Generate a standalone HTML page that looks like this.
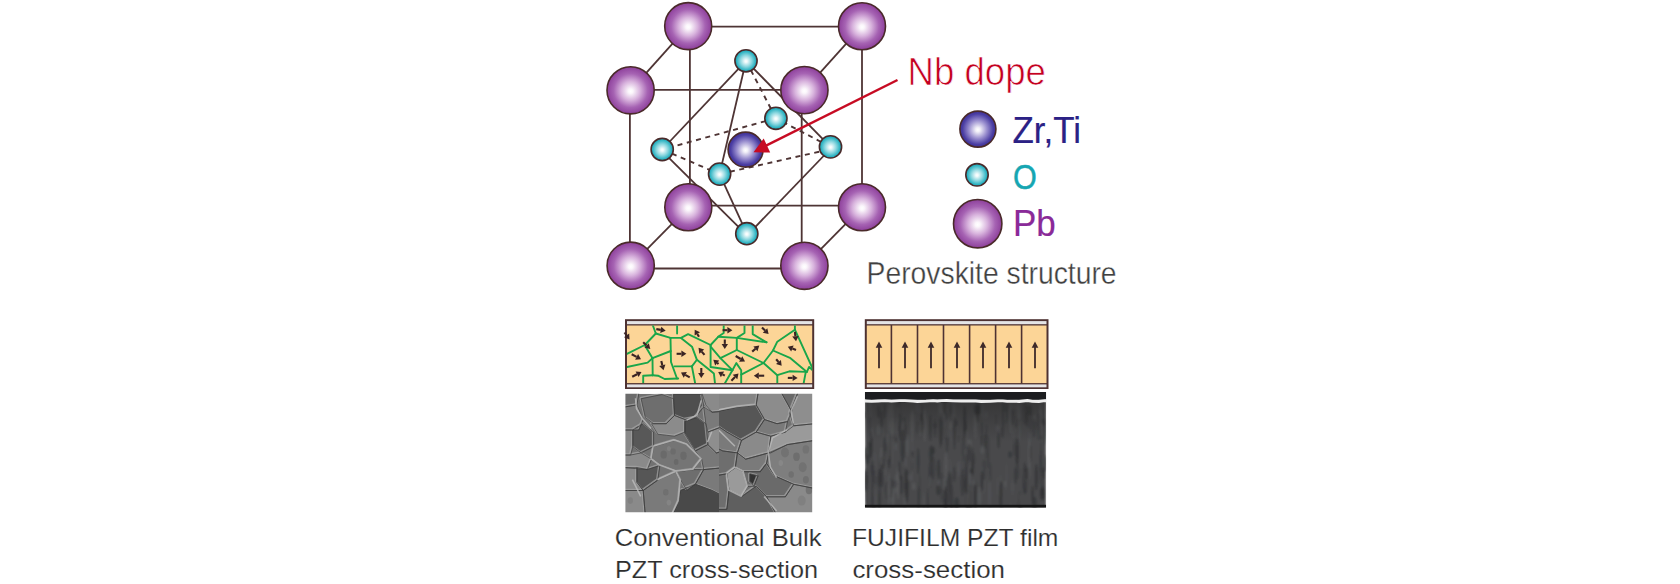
<!DOCTYPE html>
<html><head><meta charset="utf-8"><style>
html,body{margin:0;padding:0;background:#fff;width:1680px;height:584px;overflow:hidden}
svg{position:absolute;left:0;top:0;display:block}
</style></head><body>
<svg width="1680" height="584" viewBox="0 0 1680 584">
<defs>
<radialGradient id="gPb" cx="50%" cy="50%" r="50%" fx="50%" fy="52%">
<stop offset="0" stop-color="#ffffff"/><stop offset="0.1" stop-color="#fbf6fb"/><stop offset="0.4" stop-color="#d8b3dd"/><stop offset="0.72" stop-color="#a663b3"/><stop offset="1" stop-color="#8d3f9b"/></radialGradient>
<radialGradient id="gZr" cx="50%" cy="50%" r="50%" fx="50%" fy="52%">
<stop offset="0" stop-color="#ffffff"/><stop offset="0.12" stop-color="#f2f0f8"/><stop offset="0.5" stop-color="#9a8fcf"/><stop offset="0.85" stop-color="#4b3ea3"/><stop offset="1" stop-color="#3e3199"/></radialGradient>
<radialGradient id="gO" cx="50%" cy="50%" r="50%" fx="50%" fy="52%">
<stop offset="0" stop-color="#ffffff"/><stop offset="0.12" stop-color="#f0fafb"/><stop offset="0.5" stop-color="#8fd8e0"/><stop offset="0.85" stop-color="#2db3c2"/><stop offset="1" stop-color="#1ba8b9"/></radialGradient>
<filter id="blur1" x="-5%" y="-5%" width="110%" height="110%"><feGaussianBlur stdDeviation="0.6"/></filter>
<filter id="blur15" x="-5%" y="-5%" width="110%" height="110%"><feGaussianBlur stdDeviation="0.9"/></filter>
<linearGradient id="sem2top" x1="0" y1="0" x2="0" y2="1"><stop offset="0" stop-color="#222" stop-opacity="0.45"/><stop offset="1" stop-color="#222" stop-opacity="0"/></linearGradient>
<filter id="blur2" x="-5%" y="-5%" width="110%" height="110%"><feGaussianBlur stdDeviation="1.2"/></filter>
<clipPath id="sem1"><rect x="625.4" y="393.8" width="186.8" height="118.5"/></clipPath>
<clipPath id="sem2"><rect x="864.9" y="391.9" width="181.2" height="115.8"/></clipPath>
<clipPath id="semL"><rect x="600" y="380" width="119" height="140"/></clipPath>
<clipPath id="semR"><rect x="719" y="380" width="100" height="140"/></clipPath>
<clipPath id="pan1"><rect x="627" y="325.5" width="185.2" height="57.6"/></clipPath>
</defs>
<line x1="688.2" y1="26.7" x2="862" y2="26.7" stroke="#4e3434" stroke-width="1.8" fill="none" />
<line x1="689.9" y1="26.1" x2="689.9" y2="207.3" stroke="#4e3434" stroke-width="1.8" fill="none" />
<line x1="862" y1="26.2" x2="862" y2="207.3" stroke="#4e3434" stroke-width="1.8" fill="none" />
<line x1="688.3" y1="205.6" x2="862" y2="205.6" stroke="#4e3434" stroke-width="1.8" fill="none" />
<line x1="688.2" y1="26.1" x2="630.6" y2="90.3" stroke="#4e3434" stroke-width="1.8" fill="none" />
<line x1="862" y1="26.2" x2="804.4" y2="90.1" stroke="#4e3434" stroke-width="1.8" fill="none" />
<line x1="688.3" y1="207.3" x2="630.7" y2="265.7" stroke="#4e3434" stroke-width="1.8" fill="none" />
<line x1="862" y1="207.3" x2="804.4" y2="265.8" stroke="#4e3434" stroke-width="1.8" fill="none" />
<line x1="630.6" y1="89.8" x2="804.4" y2="89.8" stroke="#4e3434" stroke-width="1.8" fill="none" />
<line x1="629.9" y1="90" x2="629.9" y2="265.6" stroke="#4e3434" stroke-width="1.8" fill="none" />
<line x1="801.7" y1="90" x2="801.7" y2="265.7" stroke="#4e3434" stroke-width="1.8" fill="none" />
<line x1="630.7" y1="268.5" x2="804.4" y2="268.5" stroke="#4e3434" stroke-width="1.8" fill="none" />
<line x1="746" y1="60.8" x2="662.2" y2="149.5" stroke="#4e3434" stroke-width="1.8" fill="none" />
<line x1="746" y1="60.8" x2="830.5" y2="146.9" stroke="#4e3434" stroke-width="1.8" fill="none" />
<line x1="746" y1="60.8" x2="719.6" y2="174.1" stroke="#4e3434" stroke-width="1.8" fill="none" />
<line x1="746" y1="60.8" x2="775.9" y2="118.3" stroke="#4e3434" fill="none" stroke-dasharray="5 4.6" stroke-dashoffset="-1" stroke-width="1.9"/>
<line x1="746.8" y1="235.2" x2="662.1" y2="151.2" stroke="#4e3434" stroke-width="1.8" fill="none" />
<line x1="746.8" y1="235.8" x2="830.3" y2="149.0" stroke="#4e3434" stroke-width="1.8" fill="none" />
<line x1="746.8" y1="233.7" x2="719.6" y2="174.1" stroke="#4e3434" stroke-width="1.8" fill="none" />
<line x1="662.2" y1="149.5" x2="719.6" y2="174.1" stroke="#4e3434" fill="none" stroke-dasharray="5 4.6" stroke-dashoffset="-1" stroke-width="1.9"/>
<line x1="719.6" y1="174.1" x2="830.3" y2="149.2" stroke="#4e3434" fill="none" stroke-dasharray="5 4.6" stroke-dashoffset="-1" stroke-width="1.9"/>
<line x1="830.5" y1="146.9" x2="775.9" y2="118.3" stroke="#4e3434" fill="none" stroke-dasharray="5 4.6" stroke-dashoffset="-1" stroke-width="1.9"/>
<line x1="775.9" y1="118.3" x2="662.2" y2="149.5" stroke="#4e3434" fill="none" stroke-dasharray="5 4.6" stroke-dashoffset="-1" stroke-width="1.9"/>
<circle cx="688.2" cy="26.1" r="23.5" fill="url(#gPb)" stroke="#4a2a2a" stroke-width="1.6"/>
<circle cx="862" cy="26.2" r="23.5" fill="url(#gPb)" stroke="#4a2a2a" stroke-width="1.6"/>
<circle cx="688.3" cy="207.3" r="23.5" fill="url(#gPb)" stroke="#4a2a2a" stroke-width="1.6"/>
<circle cx="862" cy="207.3" r="23.5" fill="url(#gPb)" stroke="#4a2a2a" stroke-width="1.6"/>
<circle cx="775.9" cy="118.3" r="11.1" fill="url(#gO)" stroke="#4a2a2a" stroke-width="1.6"/>
<circle cx="745.6" cy="149.6" r="17.5" fill="url(#gZr)" stroke="#4a2a2a" stroke-width="1.6"/>
<circle cx="746" cy="60.8" r="11.1" fill="url(#gO)" stroke="#4a2a2a" stroke-width="1.6"/>
<circle cx="662.2" cy="149.5" r="11.1" fill="url(#gO)" stroke="#4a2a2a" stroke-width="1.6"/>
<circle cx="830.5" cy="146.9" r="11.1" fill="url(#gO)" stroke="#4a2a2a" stroke-width="1.6"/>
<circle cx="719.6" cy="174.1" r="11.1" fill="url(#gO)" stroke="#4a2a2a" stroke-width="1.6"/>
<circle cx="746.8" cy="233.7" r="11.1" fill="url(#gO)" stroke="#4a2a2a" stroke-width="1.6"/>
<circle cx="630.6" cy="90.3" r="23.6" fill="url(#gPb)" stroke="#4a2a2a" stroke-width="1.6"/>
<circle cx="804.4" cy="90.1" r="23.6" fill="url(#gPb)" stroke="#4a2a2a" stroke-width="1.6"/>
<circle cx="630.7" cy="265.7" r="23.6" fill="url(#gPb)" stroke="#4a2a2a" stroke-width="1.6"/>
<circle cx="804.4" cy="265.8" r="23.6" fill="url(#gPb)" stroke="#4a2a2a" stroke-width="1.6"/>
<line x1="897.5" y1="80.0" x2="762" y2="147.6" stroke="#c70b23" stroke-width="2.5"/>
<polygon points="753.5,152.2 763.7,138.4 770.2,152.6" fill="#c70b23"/>
<circle cx="977.9" cy="129.1" r="18.0" fill="url(#gZr)" stroke="#4a2a2a" stroke-width="1.6"/>
<circle cx="977.0" cy="174.8" r="11.2" fill="url(#gO)" stroke="#4a2a2a" stroke-width="1.6"/>
<circle cx="977.7" cy="223.7" r="24.2" fill="url(#gPb)" stroke="#4a2a2a" stroke-width="1.6"/>
<text x="907.60" y="84.5" font-family="Liberation Sans, sans-serif" font-size="38.6" fill="#c4001f" stroke="#fff" stroke-width="0.7" textLength="138.20" lengthAdjust="spacingAndGlyphs">Nb dope</text>
<text x="1012.40" y="142.9" font-family="Liberation Sans, sans-serif" font-size="37.0" fill="#2b2185" stroke="#2b2185" stroke-width="0.2" textLength="68.60" lengthAdjust="spacingAndGlyphs">Zr,Ti</text>
<text x="1013.00" y="188.6" font-family="Liberation Sans, sans-serif" font-size="35.2" fill="#16a6b2" stroke="#16a6b2" stroke-width="0.45" textLength="23.80" lengthAdjust="spacingAndGlyphs">O</text>
<text x="1013.00" y="235.6" font-family="Liberation Sans, sans-serif" font-size="37.0" fill="#8a2a98" stroke="#8a2a98" stroke-width="0.2" textLength="42.80" lengthAdjust="spacingAndGlyphs">Pb</text>
<text x="866.60" y="283.6" font-family="Liberation Sans, sans-serif" font-size="30.5" fill="#404040" stroke="#fff" stroke-width="0.35" textLength="250.00" lengthAdjust="spacingAndGlyphs">Perovskite structure</text>
<text x="614.80" y="545.7" font-family="Liberation Sans, sans-serif" font-size="23.8" fill="#2e2e2e" stroke="#fff" stroke-width="0.15" textLength="206.80" lengthAdjust="spacingAndGlyphs">Conventional Bulk</text>
<text x="615.00" y="577.5" font-family="Liberation Sans, sans-serif" font-size="23.8" fill="#2e2e2e" stroke="#fff" stroke-width="0.15" textLength="203.00" lengthAdjust="spacingAndGlyphs">PZT cross-section</text>
<text x="852.00" y="545.7" font-family="Liberation Sans, sans-serif" font-size="23.8" fill="#2e2e2e" stroke="#fff" stroke-width="0.15" textLength="206.40" lengthAdjust="spacingAndGlyphs">FUJIFILM PZT film</text>
<text x="852.40" y="577.5" font-family="Liberation Sans, sans-serif" font-size="23.8" fill="#2e2e2e" stroke="#fff" stroke-width="0.15" textLength="152.60" lengthAdjust="spacingAndGlyphs">cross-section</text>
<rect x="625" y="319.2" width="189.20000000000005" height="69.8" fill="#4e3232"/><rect x="627" y="321.1" width="185.20000000000005" height="3.1" fill="#e4e4e6"/><rect x="627" y="325.5" width="185.20000000000005" height="57.6" fill="#fcd597"/><rect x="627" y="384.4" width="185.20000000000005" height="2.9" fill="#e4e4e6"/>
<rect x="864.8" y="319.2" width="183.70000000000005" height="69.8" fill="#4e3232"/><rect x="866.8" y="321.1" width="179.70000000000005" height="3.1" fill="#e4e4e6"/><rect x="866.8" y="325.5" width="179.70000000000005" height="57.6" fill="#fcd597"/><rect x="866.8" y="384.4" width="179.70000000000005" height="2.9" fill="#e4e4e6"/>
<line x1="891.4" y1="325" x2="891.4" y2="383.5" stroke="#4e3232" stroke-width="1.6"/>
<line x1="917.5" y1="325" x2="917.5" y2="383.5" stroke="#4e3232" stroke-width="1.6"/>
<line x1="943.5" y1="325" x2="943.5" y2="383.5" stroke="#4e3232" stroke-width="1.6"/>
<line x1="969.6" y1="325" x2="969.6" y2="383.5" stroke="#4e3232" stroke-width="1.6"/>
<line x1="995.6" y1="325" x2="995.6" y2="383.5" stroke="#4e3232" stroke-width="1.6"/>
<line x1="1021.6" y1="325" x2="1021.6" y2="383.5" stroke="#4e3232" stroke-width="1.6"/>
<line x1="879.0" y1="346" x2="879.0" y2="368.2" stroke="#3e2a2a" stroke-width="1.8"/>
<polygon points="875.7,347.8 879.0,341.4 882.3,347.8" fill="#3e2a2a"/>
<line x1="905.0" y1="346" x2="905.0" y2="368.2" stroke="#3e2a2a" stroke-width="1.8"/>
<polygon points="901.7,347.8 905.0,341.4 908.3,347.8" fill="#3e2a2a"/>
<line x1="931.0" y1="346" x2="931.0" y2="368.2" stroke="#3e2a2a" stroke-width="1.8"/>
<polygon points="927.7,347.8 931.0,341.4 934.3,347.8" fill="#3e2a2a"/>
<line x1="957.0" y1="346" x2="957.0" y2="368.2" stroke="#3e2a2a" stroke-width="1.8"/>
<polygon points="953.7,347.8 957.0,341.4 960.3,347.8" fill="#3e2a2a"/>
<line x1="983.0" y1="346" x2="983.0" y2="368.2" stroke="#3e2a2a" stroke-width="1.8"/>
<polygon points="979.7,347.8 983.0,341.4 986.3,347.8" fill="#3e2a2a"/>
<line x1="1009.0" y1="346" x2="1009.0" y2="368.2" stroke="#3e2a2a" stroke-width="1.8"/>
<polygon points="1005.7,347.8 1009.0,341.4 1012.3,347.8" fill="#3e2a2a"/>
<line x1="1035.0" y1="346" x2="1035.0" y2="368.2" stroke="#3e2a2a" stroke-width="1.8"/>
<polygon points="1031.7,347.8 1035.0,341.4 1038.3,347.8" fill="#3e2a2a"/>
<g clip-path="url(#pan1)" fill="none" stroke="#19a64a" stroke-width="1.9" stroke-linejoin="round" stroke-linecap="round"><polyline points="652.7,325.0 655.8,333.5"/><polyline points="655.8,333.5 670.5,337.9"/><polyline points="655.8,333.5 644.8,345.0 627.0,353.8"/><polyline points="644.8,345.3 652.5,358.2"/><polyline points="652.5,358.2 670.8,351.0"/><polyline points="652.5,358.2 647.6,362.6 627.0,367.0"/><polyline points="652.5,358.2 652.7,375.2"/><polyline points="652.7,375.2 643.2,375.7 643.2,383.5"/><polyline points="652.7,375.2 658.0,375.7 664.6,379.0 678.2,378.5"/><polyline points="677.1,325.0 677.1,333.5"/><polyline points="670.5,337.9 681.0,337.9 688.1,334.1 710.6,345.0"/><polyline points="710.6,345.0 718.2,336.8 723.7,333.0 723.7,325.0"/><polyline points="681.0,337.9 692.0,346.7 696.9,359.8 691.9,366.4"/><polyline points="691.9,366.4 674.4,366.4"/><polyline points="691.9,366.4 695.2,383.5"/><polyline points="670.5,337.9 671.0,362.0 677.0,378.5"/><polyline points="710.6,345.0 710.6,367.0 732.4,370.2"/><polyline points="710.6,346.7 720.4,358.2 732.4,370.2"/><polyline points="696.9,359.8 713.9,373.5 715.0,383.5"/><polyline points="718.2,336.8 736.8,337.9"/><polyline points="736.8,337.9 744.5,333.0 744.5,325.0"/><polyline points="736.8,337.9 766.5,342.3"/><polyline points="752.7,325.0 752.7,334.1 766.5,342.3"/><polyline points="736.8,337.9 736.8,350.0"/><polyline points="736.8,350.0 720.4,358.2"/><polyline points="736.8,350.0 763.5,363.0"/><polyline points="732.4,370.2 724.8,383.5"/><polyline points="732.4,370.2 736.3,363.1 741.2,370.2 741.2,383.5"/><polyline points="741.2,374.6 763.5,363.0"/><polyline points="794.9,325.0 794.9,329.7"/><polyline points="794.9,329.7 777.3,341.7 773.0,350.5 763.5,363.0"/><polyline points="794.9,329.7 812.4,368.0"/><polyline points="773.0,350.5 790.5,358.2 806.9,371.9"/><polyline points="763.5,363.0 777.3,375.2 777.3,383.5"/><polyline points="777.3,375.2 789.4,371.3 805.8,371.9"/><polyline points="805.8,371.9 803.6,383.5"/><polyline points="806.9,371.9 809.1,366.9 812.4,370.0"/></g>
<g stroke="#3a2424" stroke-width="2.1" fill="#3a2424"><line x1="656.3" y1="329.1" x2="660.8" y2="329.9"/><polygon points="665.7,330.8 660.2,333.1 661.3,326.8" stroke="none" fill="#3a2424"/><line x1="643.2" y1="342.3" x2="646.6" y2="345.5"/><polygon points="650.3,348.9 644.5,347.8 648.8,343.2" stroke="none" fill="#3a2424"/><line x1="631.7" y1="354.3" x2="636.6" y2="356.9"/><polygon points="641.0,359.3 635.1,359.8 638.1,354.1" stroke="none" fill="#3a2424"/><line x1="661.3" y1="361.0" x2="662.3" y2="365.3"/><polygon points="663.5,370.2 659.2,366.1 665.4,364.6" stroke="none" fill="#3a2424"/><line x1="632.2" y1="376.8" x2="637.1" y2="374.2"/><polygon points="641.5,371.9 638.6,377.1 635.6,371.4" stroke="none" fill="#3a2424"/><line x1="624.5" y1="332.5" x2="626.6" y2="335.4"/><polygon points="629.5,339.5 624.0,337.3 629.2,333.6" stroke="none" fill="#3a2424"/><line x1="699.0" y1="336.8" x2="697.3" y2="334.0"/><polygon points="694.7,329.7 700.0,332.3 694.6,335.6" stroke="none" fill="#3a2424"/><line x1="676.6" y1="353.8" x2="681.4" y2="353.8"/><polygon points="686.4,353.8 681.4,357.0 681.4,350.6" stroke="none" fill="#3a2424"/><line x1="704.5" y1="354.9" x2="701.7" y2="351.6"/><polygon points="698.5,347.8 704.2,349.6 699.3,353.7" stroke="none" fill="#3a2424"/><line x1="689.7" y1="377.4" x2="685.3" y2="374.9"/><polygon points="681.0,372.4 686.9,372.1 683.7,377.7" stroke="none" fill="#3a2424"/><line x1="701.3" y1="368.0" x2="701.3" y2="373.0"/><polygon points="701.3,378.0 698.1,373.0 704.5,373.0" stroke="none" fill="#3a2424"/><line x1="718.5" y1="364.0" x2="717.2" y2="362.9"/><polygon points="713.3,359.8 719.2,360.5 715.2,365.4" stroke="none" fill="#3a2424"/><line x1="722.6" y1="330.2" x2="727.4" y2="330.2"/><polygon points="732.4,330.2 727.4,333.4 727.4,327.0" stroke="none" fill="#3a2424"/><line x1="724.8" y1="339.5" x2="724.8" y2="343.9"/><polygon points="724.8,348.9 721.6,343.9 728.0,343.9" stroke="none" fill="#3a2424"/><line x1="752.2" y1="351.6" x2="755.5" y2="348.8"/><polygon points="759.3,345.6 757.5,351.3 753.4,346.4" stroke="none" fill="#3a2424"/><line x1="735.7" y1="356.0" x2="740.7" y2="359.0"/><polygon points="745.0,361.5 739.1,361.7 742.3,356.2" stroke="none" fill="#3a2424"/><line x1="731.4" y1="380.7" x2="735.0" y2="377.1"/><polygon points="738.5,373.5 737.3,379.3 732.7,374.8" stroke="none" fill="#3a2424"/><line x1="764.2" y1="375.7" x2="758.8" y2="375.7"/><polygon points="753.8,375.7 758.8,372.5 758.8,378.9" stroke="none" fill="#3a2424"/><line x1="762.0" y1="327.5" x2="765.1" y2="330.6"/><polygon points="768.6,334.1 762.8,332.8 767.3,328.3" stroke="none" fill="#3a2424"/><line x1="724.8" y1="375.7" x2="722.5" y2="374.4"/><polygon points="718.2,371.9 724.1,371.6 720.9,377.2" stroke="none" fill="#3a2424"/><line x1="794.9" y1="331.9" x2="795.4" y2="336.2"/><polygon points="796.0,341.2 792.2,336.6 798.6,335.9" stroke="none" fill="#3a2424"/><line x1="796.0" y1="350.0" x2="792.4" y2="348.6"/><polygon points="787.8,346.7 793.6,345.6 791.2,351.5" stroke="none" fill="#3a2424"/><line x1="776.2" y1="359.3" x2="778.5" y2="362.0"/><polygon points="781.7,365.8 776.0,364.1 780.9,359.9" stroke="none" fill="#3a2424"/><line x1="787.8" y1="377.9" x2="792.6" y2="377.9"/><polygon points="797.6,377.9 792.6,381.1 792.6,374.7" stroke="none" fill="#3a2424"/></g>
<g clip-path="url(#sem1)"><g filter="url(#blur1)"><rect x="625.4" y="393.8" width="186.8" height="118.5" fill="#727272"/><g clip-path="url(#semL)"><polygon points="624.0,392.0 638.6,392.0 636.5,404.5 624.0,406.6" fill="#6c6c6c" stroke="#6c6c6c" stroke-width="0.8"/><polygon points="640.7,398.3 661.6,394.1 673.1,398.3 674.1,415.0 665.8,423.3 653.2,423.3 644.9,417.1" fill="#6e6e6e" stroke="#6e6e6e" stroke-width="0.8"/><polygon points="673.1,394.1 701.2,394.1 703.3,406.6 695.0,417.1 684.5,419.1 674.1,415.0" fill="#4f4f4f" stroke="#4f4f4f" stroke-width="0.8"/><polygon points="701.2,392.0 724.0,392.0 724.0,410.8 711.7,411.8 705.4,404.5" fill="#8a8a8a" stroke="#8a8a8a" stroke-width="0.8"/><polygon points="624.0,406.6 636.5,404.5 642.8,419.1 638.6,429.6 624.0,429.6" fill="#7a7a7a" stroke="#7a7a7a" stroke-width="0.8"/><polygon points="651.1,423.3 665.8,423.3 674.1,415.0 684.5,419.1 684.5,431.7 674.1,435.8 657.4,433.8" fill="#8b8b8b" stroke="#8b8b8b" stroke-width="0.8"/><polygon points="632.4,429.6 642.8,423.3 653.2,431.7 653.2,446.3 640.7,452.5 632.4,446.3" fill="#595959" stroke="#595959" stroke-width="0.8"/><polygon points="684.5,421.2 697.1,417.1 705.4,423.3 707.5,444.2 695.0,450.5 684.5,433.8" fill="#4d4d4d" stroke="#4d4d4d" stroke-width="0.8"/><polygon points="703.3,406.6 711.7,411.8 724.0,410.8 724.0,425.4 707.5,431.7 705.4,423.3" fill="#7a7a7a" stroke="#7a7a7a" stroke-width="0.8"/><polygon points="707.5,431.7 724.0,425.4 724.0,450.5 715.9,452.5 707.5,444.2" fill="#8e8e8e" stroke="#8e8e8e" stroke-width="0.8"/><polygon points="624.0,429.6 632.4,429.6 632.4,446.3 630.3,454.6 624.0,454.6" fill="#8a8a8a" stroke="#8a8a8a" stroke-width="0.8"/><polygon points="653.2,446.3 674.1,440.0 686.6,444.2 701.2,458.8 692.9,469.2 676.2,471.3 659.5,465.1 651.1,458.8" fill="#757575" stroke="#757575" stroke-width="0.8"/><polygon points="624.0,454.6 630.3,454.6 640.7,452.5 651.1,458.8 647.0,469.2 624.0,467.2" fill="#8a8a8a" stroke="#8a8a8a" stroke-width="0.8"/><polygon points="695.0,450.5 707.5,444.2 715.9,452.5 724.0,450.5 724.0,467.2 703.3,469.2 701.2,458.8" fill="#787878" stroke="#787878" stroke-width="0.8"/><polygon points="636.5,467.2 647.0,469.2 659.5,465.1 657.4,479.7 642.8,490.1 636.5,481.8" fill="#565656" stroke="#565656" stroke-width="0.8"/><polygon points="624.0,467.2 636.5,467.2 636.5,481.8 642.8,490.1 624.0,490.1" fill="#8a8a8a" stroke="#8a8a8a" stroke-width="0.8"/><polygon points="624.0,490.1 642.8,490.1 644.9,515.2 624.0,515.2" fill="#8a8a8a" stroke="#8a8a8a" stroke-width="0.8"/><polygon points="657.4,479.7 676.2,471.3 680.4,479.7 678.3,500.6 672.0,515.2 644.9,515.2 642.8,490.1" fill="#7a7a7a" stroke="#7a7a7a" stroke-width="0.8"/><polygon points="676.2,471.3 692.9,469.2 703.3,469.2 695.0,483.9 686.6,490.1 680.4,479.7" fill="#6e6e6e" stroke="#6e6e6e" stroke-width="0.8"/><polygon points="703.3,469.2 724.0,467.2 724.0,496.4 711.7,490.1 695.0,483.9" fill="#7a7a7a" stroke="#7a7a7a" stroke-width="0.8"/><polygon points="680.4,490.1 695.0,483.9 711.7,490.1 724.0,496.4 724.0,515.2 672.0,515.2 678.3,500.6" fill="#4a4a4a" stroke="#4a4a4a" stroke-width="0.8"/><ellipse cx="663.7" cy="454.6" rx="3.3" ry="4.2" fill="#555555" opacity="0.3"/><ellipse cx="673.1" cy="451.5" rx="2.7" ry="3.3" fill="#5a5a5a" opacity="0.3"/><ellipse cx="683.5" cy="455.7" rx="3.3" ry="4.2" fill="#555555" opacity="0.3"/><ellipse cx="676.2" cy="461.9" rx="2.3" ry="2.9" fill="#505050" opacity="0.3"/><ellipse cx="668.9" cy="448.4" rx="2.0" ry="2.5" fill="#9a9a9a" opacity="0.3"/><ellipse cx="665.8" cy="492.2" rx="2.7" ry="3.3" fill="#555555" opacity="0.3"/><ellipse cx="668.9" cy="502.6" rx="2.3" ry="2.9" fill="#9a9a9a" opacity="0.3"/><ellipse cx="630.3" cy="500.6" rx="2.7" ry="3.3" fill="#6a6a6a" opacity="0.3"/><path d="M638.6,392.0L636.5,404.5M636.5,404.5L624.0,406.6M640.7,398.3L661.6,394.1M661.6,394.1L673.1,398.3M673.1,398.3L674.1,415.0M674.1,415.0L665.8,423.3M665.8,423.3L653.2,423.3M653.2,423.3L644.9,417.1M644.9,417.1L640.7,398.3M673.1,394.1L701.2,394.1M701.2,394.1L703.3,406.6M703.3,406.6L695.0,417.1M695.0,417.1L684.5,419.1M684.5,419.1L674.1,415.0M674.1,415.0L673.1,394.1M724.0,410.8L711.7,411.8M711.7,411.8L705.4,404.5M705.4,404.5L701.2,392.0M624.0,406.6L636.5,404.5M636.5,404.5L642.8,419.1M642.8,419.1L638.6,429.6M638.6,429.6L624.0,429.6M651.1,423.3L665.8,423.3M665.8,423.3L674.1,415.0M674.1,415.0L684.5,419.1M684.5,419.1L684.5,431.7M684.5,431.7L674.1,435.8M674.1,435.8L657.4,433.8M657.4,433.8L651.1,423.3M632.4,429.6L642.8,423.3M642.8,423.3L653.2,431.7M653.2,431.7L653.2,446.3M653.2,446.3L640.7,452.5M640.7,452.5L632.4,446.3M632.4,446.3L632.4,429.6M684.5,421.2L697.1,417.1M697.1,417.1L705.4,423.3M705.4,423.3L707.5,444.2M707.5,444.2L695.0,450.5M695.0,450.5L684.5,433.8M684.5,433.8L684.5,421.2M703.3,406.6L711.7,411.8M711.7,411.8L724.0,410.8M724.0,425.4L707.5,431.7M707.5,431.7L705.4,423.3M705.4,423.3L703.3,406.6M707.5,431.7L724.0,425.4M724.0,450.5L715.9,452.5M715.9,452.5L707.5,444.2M707.5,444.2L707.5,431.7M624.0,429.6L632.4,429.6M632.4,429.6L632.4,446.3M632.4,446.3L630.3,454.6M630.3,454.6L624.0,454.6M653.2,446.3L674.1,440.0M674.1,440.0L686.6,444.2M686.6,444.2L701.2,458.8M701.2,458.8L692.9,469.2M692.9,469.2L676.2,471.3M676.2,471.3L659.5,465.1M659.5,465.1L651.1,458.8M651.1,458.8L653.2,446.3M624.0,454.6L630.3,454.6M630.3,454.6L640.7,452.5M640.7,452.5L651.1,458.8M651.1,458.8L647.0,469.2M647.0,469.2L624.0,467.2M695.0,450.5L707.5,444.2M707.5,444.2L715.9,452.5M715.9,452.5L724.0,450.5M724.0,467.2L703.3,469.2M703.3,469.2L701.2,458.8M701.2,458.8L695.0,450.5M636.5,467.2L647.0,469.2M647.0,469.2L659.5,465.1M659.5,465.1L657.4,479.7M657.4,479.7L642.8,490.1M642.8,490.1L636.5,481.8M636.5,481.8L636.5,467.2M624.0,467.2L636.5,467.2M636.5,467.2L636.5,481.8M636.5,481.8L642.8,490.1M642.8,490.1L624.0,490.1M624.0,490.1L642.8,490.1M642.8,490.1L644.9,515.2M657.4,479.7L676.2,471.3M676.2,471.3L680.4,479.7M680.4,479.7L678.3,500.6M678.3,500.6L672.0,515.2M644.9,515.2L642.8,490.1M642.8,490.1L657.4,479.7M676.2,471.3L692.9,469.2M692.9,469.2L703.3,469.2M703.3,469.2L695.0,483.9M695.0,483.9L686.6,490.1M686.6,490.1L680.4,479.7M680.4,479.7L676.2,471.3M703.3,469.2L724.0,467.2M724.0,496.4L711.7,490.1M711.7,490.1L695.0,483.9M695.0,483.9L703.3,469.2M680.4,490.1L695.0,483.9M695.0,483.9L711.7,490.1M711.7,490.1L724.0,496.4M672.0,515.2L678.3,500.6M678.3,500.6L680.4,490.1" fill="none" stroke="#a6a6a6" stroke-width="1.5" opacity="0.7" transform="translate(-0.6,-0.6)"/><path d="M638.6,392.0L636.5,404.5M636.5,404.5L624.0,406.6M640.7,398.3L661.6,394.1M661.6,394.1L673.1,398.3M673.1,398.3L674.1,415.0M674.1,415.0L665.8,423.3M665.8,423.3L653.2,423.3M653.2,423.3L644.9,417.1M644.9,417.1L640.7,398.3M673.1,394.1L701.2,394.1M701.2,394.1L703.3,406.6M703.3,406.6L695.0,417.1M695.0,417.1L684.5,419.1M684.5,419.1L674.1,415.0M674.1,415.0L673.1,394.1M724.0,410.8L711.7,411.8M711.7,411.8L705.4,404.5M705.4,404.5L701.2,392.0M624.0,406.6L636.5,404.5M636.5,404.5L642.8,419.1M642.8,419.1L638.6,429.6M638.6,429.6L624.0,429.6M651.1,423.3L665.8,423.3M665.8,423.3L674.1,415.0M674.1,415.0L684.5,419.1M684.5,419.1L684.5,431.7M684.5,431.7L674.1,435.8M674.1,435.8L657.4,433.8M657.4,433.8L651.1,423.3M632.4,429.6L642.8,423.3M642.8,423.3L653.2,431.7M653.2,431.7L653.2,446.3M653.2,446.3L640.7,452.5M640.7,452.5L632.4,446.3M632.4,446.3L632.4,429.6M684.5,421.2L697.1,417.1M697.1,417.1L705.4,423.3M705.4,423.3L707.5,444.2M707.5,444.2L695.0,450.5M695.0,450.5L684.5,433.8M684.5,433.8L684.5,421.2M703.3,406.6L711.7,411.8M711.7,411.8L724.0,410.8M724.0,425.4L707.5,431.7M707.5,431.7L705.4,423.3M705.4,423.3L703.3,406.6M707.5,431.7L724.0,425.4M724.0,450.5L715.9,452.5M715.9,452.5L707.5,444.2M707.5,444.2L707.5,431.7M624.0,429.6L632.4,429.6M632.4,429.6L632.4,446.3M632.4,446.3L630.3,454.6M630.3,454.6L624.0,454.6M653.2,446.3L674.1,440.0M674.1,440.0L686.6,444.2M686.6,444.2L701.2,458.8M701.2,458.8L692.9,469.2M692.9,469.2L676.2,471.3M676.2,471.3L659.5,465.1M659.5,465.1L651.1,458.8M651.1,458.8L653.2,446.3M624.0,454.6L630.3,454.6M630.3,454.6L640.7,452.5M640.7,452.5L651.1,458.8M651.1,458.8L647.0,469.2M647.0,469.2L624.0,467.2M695.0,450.5L707.5,444.2M707.5,444.2L715.9,452.5M715.9,452.5L724.0,450.5M724.0,467.2L703.3,469.2M703.3,469.2L701.2,458.8M701.2,458.8L695.0,450.5M636.5,467.2L647.0,469.2M647.0,469.2L659.5,465.1M659.5,465.1L657.4,479.7M657.4,479.7L642.8,490.1M642.8,490.1L636.5,481.8M636.5,481.8L636.5,467.2M624.0,467.2L636.5,467.2M636.5,467.2L636.5,481.8M636.5,481.8L642.8,490.1M642.8,490.1L624.0,490.1M624.0,490.1L642.8,490.1M642.8,490.1L644.9,515.2M657.4,479.7L676.2,471.3M676.2,471.3L680.4,479.7M680.4,479.7L678.3,500.6M678.3,500.6L672.0,515.2M644.9,515.2L642.8,490.1M642.8,490.1L657.4,479.7M676.2,471.3L692.9,469.2M692.9,469.2L703.3,469.2M703.3,469.2L695.0,483.9M695.0,483.9L686.6,490.1M686.6,490.1L680.4,479.7M680.4,479.7L676.2,471.3M703.3,469.2L724.0,467.2M724.0,496.4L711.7,490.1M711.7,490.1L695.0,483.9M695.0,483.9L703.3,469.2M680.4,490.1L695.0,483.9M695.0,483.9L711.7,490.1M711.7,490.1L724.0,496.4M672.0,515.2L678.3,500.6M678.3,500.6L680.4,490.1" fill="none" stroke="#3c3c3c" stroke-width="0.9" opacity="0.75" transform="translate(0.4,0.4)"/><g fill="none" stroke="#bdbdbd" stroke-width="1.5" stroke-linejoin="round" opacity="0.8"><polyline points="635.5,398.3 636.5,408.7 642.8,419.1 651.1,428.5"/><polyline points="701.2,400.4 697.1,415.0 686.6,420.2"/><polyline points="653.2,446.3 674.1,440.0 686.6,444.2 701.2,458.8 692.9,469.2 676.2,471.3 659.5,465.1 651.1,458.8 653.2,446.3"/><polyline points="632.4,479.7 640.7,496.4"/><polyline points="657.4,479.7 676.2,471.3 680.4,479.7 678.3,500.6 672.0,513.9"/><polyline points="711.7,431.7 707.5,442.1"/></g></g><g clip-path="url(#semR)"><polygon points="714.0,392.0 757.8,392.0 755.8,404.5 737.0,406.6 718.2,410.8 714.0,410.8" fill="#858585" stroke="#858585" stroke-width="0.8"/><polygon points="718.2,410.8 737.0,406.6 755.8,404.5 764.1,419.1 755.8,431.7 741.1,440.0 726.5,431.7 714.0,423.3" fill="#565656" stroke="#565656" stroke-width="0.8"/><polygon points="757.8,392.0 780.8,392.0 791.2,410.8 787.1,421.2 776.6,423.3 764.1,419.1 755.8,404.5" fill="#8c8c8c" stroke="#8c8c8c" stroke-width="0.8"/><polygon points="780.8,392.0 797.5,392.0 791.2,410.8" fill="#6a6a6a" stroke="#6a6a6a" stroke-width="0.8"/><polygon points="797.5,392.0 814.2,392.0 814.2,423.3 793.3,425.4 789.2,412.9" fill="#8e8e8e" stroke="#8e8e8e" stroke-width="0.8"/><polygon points="764.1,419.1 776.6,423.3 787.1,421.2 785.0,431.7 770.4,435.8 755.8,431.7" fill="#7a7a7a" stroke="#7a7a7a" stroke-width="0.8"/><polygon points="714.0,423.3 726.5,431.7 741.1,440.0 737.0,452.5 722.4,450.5 714.0,446.3" fill="#7a7a7a" stroke="#7a7a7a" stroke-width="0.8"/><polygon points="741.1,440.0 755.8,431.7 770.4,435.8 768.3,452.5 745.3,458.8 737.0,452.5" fill="#8a8a8a" stroke="#8a8a8a" stroke-width="0.8"/><polygon points="785.0,431.7 793.3,425.4 814.2,423.3 814.2,440.0 787.1,444.2 770.4,452.5 768.3,452.5 770.4,435.8" fill="#9a9a9a" stroke="#9a9a9a" stroke-width="0.8"/><polygon points="768.3,452.5 787.1,444.2 814.2,440.0 814.2,488.0 793.3,483.9 774.5,475.5 766.2,463.0" fill="#7e7e7e" stroke="#7e7e7e" stroke-width="0.8"/><polygon points="714.0,446.3 722.4,450.5 737.0,452.5 734.9,467.2 726.5,473.4 714.0,475.5" fill="#6e6e6e" stroke="#6e6e6e" stroke-width="0.8"/><polygon points="737.0,452.5 745.3,458.8 768.3,452.5 766.2,463.0 759.9,471.3 743.2,471.3 734.9,467.2" fill="#7a7a7a" stroke="#7a7a7a" stroke-width="0.8"/><polygon points="726.5,473.4 734.9,467.2 743.2,471.3 747.4,485.9 741.1,496.4 728.6,490.1" fill="#9a9a9a" stroke="#9a9a9a" stroke-width="0.8"/><polygon points="759.9,471.3 766.2,463.0 774.5,475.5 793.3,483.9 785.0,496.4 766.2,496.4 755.8,485.9 747.4,485.9 743.2,471.3" fill="#6a6a6a" stroke="#6a6a6a" stroke-width="0.8"/><polygon points="749.5,473.4 757.8,475.5 753.7,485.9 749.5,481.8" fill="#333333" stroke="#333333" stroke-width="0.8"/><polygon points="714.0,475.5 726.5,473.4 728.6,490.1 726.5,508.9 714.0,508.9" fill="#6e6e6e" stroke="#6e6e6e" stroke-width="0.8"/><polygon points="714.0,508.9 726.5,508.9 728.6,490.1 741.1,496.4 755.8,485.9 766.2,496.4 776.6,515.2 714.0,515.2" fill="#5e5e5e" stroke="#5e5e5e" stroke-width="0.8"/><polygon points="766.2,496.4 785.0,496.4 793.3,483.9 814.2,488.0 814.2,515.2 776.6,515.2" fill="#8a8a8a" stroke="#8a8a8a" stroke-width="0.8"/><ellipse cx="785.0" cy="452.5" rx="4.0" ry="5.0" fill="#555555" opacity="0.3"/><ellipse cx="796.5" cy="456.7" rx="3.3" ry="4.2" fill="#4a4a4a" opacity="0.3"/><ellipse cx="802.7" cy="467.2" rx="4.0" ry="5.0" fill="#555555" opacity="0.3"/><ellipse cx="791.2" cy="474.5" rx="2.7" ry="3.3" fill="#505050" opacity="0.3"/><ellipse cx="805.9" cy="449.4" rx="3.3" ry="4.2" fill="#5a5a5a" opacity="0.3"/><ellipse cx="780.8" cy="463.0" rx="2.3" ry="2.9" fill="#9a9a9a" opacity="0.3"/><ellipse cx="805.9" cy="479.7" rx="3.0" ry="3.8" fill="#4e4e4e" opacity="0.3"/><ellipse cx="809.0" cy="490.1" rx="3.3" ry="4.2" fill="#3c3c3c" opacity="0.3"/><ellipse cx="801.7" cy="500.6" rx="4.0" ry="5.0" fill="#6a6a6a" opacity="0.3"/><path d="M757.8,392.0L755.8,404.5M755.8,404.5L737.0,406.6M737.0,406.6L718.2,410.8M718.2,410.8L714.0,410.8M718.2,410.8L737.0,406.6M737.0,406.6L755.8,404.5M755.8,404.5L764.1,419.1M764.1,419.1L755.8,431.7M755.8,431.7L741.1,440.0M741.1,440.0L726.5,431.7M726.5,431.7L714.0,423.3M714.0,423.3L718.2,410.8M780.8,392.0L791.2,410.8M791.2,410.8L787.1,421.2M787.1,421.2L776.6,423.3M776.6,423.3L764.1,419.1M764.1,419.1L755.8,404.5M755.8,404.5L757.8,392.0M797.5,392.0L791.2,410.8M791.2,410.8L780.8,392.0M814.2,423.3L793.3,425.4M793.3,425.4L789.2,412.9M789.2,412.9L797.5,392.0M764.1,419.1L776.6,423.3M776.6,423.3L787.1,421.2M787.1,421.2L785.0,431.7M785.0,431.7L770.4,435.8M770.4,435.8L755.8,431.7M755.8,431.7L764.1,419.1M714.0,423.3L726.5,431.7M726.5,431.7L741.1,440.0M741.1,440.0L737.0,452.5M737.0,452.5L722.4,450.5M722.4,450.5L714.0,446.3M741.1,440.0L755.8,431.7M755.8,431.7L770.4,435.8M770.4,435.8L768.3,452.5M768.3,452.5L745.3,458.8M745.3,458.8L737.0,452.5M737.0,452.5L741.1,440.0M785.0,431.7L793.3,425.4M793.3,425.4L814.2,423.3M814.2,440.0L787.1,444.2M787.1,444.2L770.4,452.5M770.4,452.5L768.3,452.5M768.3,452.5L770.4,435.8M770.4,435.8L785.0,431.7M768.3,452.5L787.1,444.2M787.1,444.2L814.2,440.0M814.2,488.0L793.3,483.9M793.3,483.9L774.5,475.5M774.5,475.5L766.2,463.0M766.2,463.0L768.3,452.5M714.0,446.3L722.4,450.5M722.4,450.5L737.0,452.5M737.0,452.5L734.9,467.2M734.9,467.2L726.5,473.4M726.5,473.4L714.0,475.5M737.0,452.5L745.3,458.8M745.3,458.8L768.3,452.5M768.3,452.5L766.2,463.0M766.2,463.0L759.9,471.3M759.9,471.3L743.2,471.3M743.2,471.3L734.9,467.2M734.9,467.2L737.0,452.5M726.5,473.4L734.9,467.2M734.9,467.2L743.2,471.3M743.2,471.3L747.4,485.9M747.4,485.9L741.1,496.4M741.1,496.4L728.6,490.1M728.6,490.1L726.5,473.4M759.9,471.3L766.2,463.0M766.2,463.0L774.5,475.5M774.5,475.5L793.3,483.9M793.3,483.9L785.0,496.4M785.0,496.4L766.2,496.4M766.2,496.4L755.8,485.9M755.8,485.9L747.4,485.9M747.4,485.9L743.2,471.3M743.2,471.3L759.9,471.3M749.5,473.4L757.8,475.5M757.8,475.5L753.7,485.9M753.7,485.9L749.5,481.8M749.5,481.8L749.5,473.4M714.0,475.5L726.5,473.4M726.5,473.4L728.6,490.1M728.6,490.1L726.5,508.9M726.5,508.9L714.0,508.9M714.0,508.9L726.5,508.9M726.5,508.9L728.6,490.1M728.6,490.1L741.1,496.4M741.1,496.4L755.8,485.9M755.8,485.9L766.2,496.4M766.2,496.4L776.6,515.2M766.2,496.4L785.0,496.4M785.0,496.4L793.3,483.9M793.3,483.9L814.2,488.0M776.6,515.2L766.2,496.4" fill="none" stroke="#a6a6a6" stroke-width="1.5" opacity="0.7" transform="translate(-0.6,-0.6)"/><path d="M757.8,392.0L755.8,404.5M755.8,404.5L737.0,406.6M737.0,406.6L718.2,410.8M718.2,410.8L714.0,410.8M718.2,410.8L737.0,406.6M737.0,406.6L755.8,404.5M755.8,404.5L764.1,419.1M764.1,419.1L755.8,431.7M755.8,431.7L741.1,440.0M741.1,440.0L726.5,431.7M726.5,431.7L714.0,423.3M714.0,423.3L718.2,410.8M780.8,392.0L791.2,410.8M791.2,410.8L787.1,421.2M787.1,421.2L776.6,423.3M776.6,423.3L764.1,419.1M764.1,419.1L755.8,404.5M755.8,404.5L757.8,392.0M797.5,392.0L791.2,410.8M791.2,410.8L780.8,392.0M814.2,423.3L793.3,425.4M793.3,425.4L789.2,412.9M789.2,412.9L797.5,392.0M764.1,419.1L776.6,423.3M776.6,423.3L787.1,421.2M787.1,421.2L785.0,431.7M785.0,431.7L770.4,435.8M770.4,435.8L755.8,431.7M755.8,431.7L764.1,419.1M714.0,423.3L726.5,431.7M726.5,431.7L741.1,440.0M741.1,440.0L737.0,452.5M737.0,452.5L722.4,450.5M722.4,450.5L714.0,446.3M741.1,440.0L755.8,431.7M755.8,431.7L770.4,435.8M770.4,435.8L768.3,452.5M768.3,452.5L745.3,458.8M745.3,458.8L737.0,452.5M737.0,452.5L741.1,440.0M785.0,431.7L793.3,425.4M793.3,425.4L814.2,423.3M814.2,440.0L787.1,444.2M787.1,444.2L770.4,452.5M770.4,452.5L768.3,452.5M768.3,452.5L770.4,435.8M770.4,435.8L785.0,431.7M768.3,452.5L787.1,444.2M787.1,444.2L814.2,440.0M814.2,488.0L793.3,483.9M793.3,483.9L774.5,475.5M774.5,475.5L766.2,463.0M766.2,463.0L768.3,452.5M714.0,446.3L722.4,450.5M722.4,450.5L737.0,452.5M737.0,452.5L734.9,467.2M734.9,467.2L726.5,473.4M726.5,473.4L714.0,475.5M737.0,452.5L745.3,458.8M745.3,458.8L768.3,452.5M768.3,452.5L766.2,463.0M766.2,463.0L759.9,471.3M759.9,471.3L743.2,471.3M743.2,471.3L734.9,467.2M734.9,467.2L737.0,452.5M726.5,473.4L734.9,467.2M734.9,467.2L743.2,471.3M743.2,471.3L747.4,485.9M747.4,485.9L741.1,496.4M741.1,496.4L728.6,490.1M728.6,490.1L726.5,473.4M759.9,471.3L766.2,463.0M766.2,463.0L774.5,475.5M774.5,475.5L793.3,483.9M793.3,483.9L785.0,496.4M785.0,496.4L766.2,496.4M766.2,496.4L755.8,485.9M755.8,485.9L747.4,485.9M747.4,485.9L743.2,471.3M743.2,471.3L759.9,471.3M749.5,473.4L757.8,475.5M757.8,475.5L753.7,485.9M753.7,485.9L749.5,481.8M749.5,481.8L749.5,473.4M714.0,475.5L726.5,473.4M726.5,473.4L728.6,490.1M728.6,490.1L726.5,508.9M726.5,508.9L714.0,508.9M714.0,508.9L726.5,508.9M726.5,508.9L728.6,490.1M728.6,490.1L741.1,496.4M741.1,496.4L755.8,485.9M755.8,485.9L766.2,496.4M766.2,496.4L776.6,515.2M766.2,496.4L785.0,496.4M785.0,496.4L793.3,483.9M793.3,483.9L814.2,488.0M776.6,515.2L766.2,496.4" fill="none" stroke="#3c3c3c" stroke-width="0.9" opacity="0.75" transform="translate(0.4,0.4)"/><g fill="none" stroke="#bdbdbd" stroke-width="1.5" stroke-linejoin="round" opacity="0.8"><polyline points="797.5,396.2 791.2,410.8 793.3,423.3"/><polyline points="787.1,429.6 772.5,437.9 768.3,452.5 770.4,467.2 776.6,477.6"/><polyline points="716.1,427.5 734.9,446.3"/><polyline points="726.5,473.4 734.9,467.2 743.2,471.3 747.4,485.9 741.1,496.4 728.6,490.1 726.5,473.4"/><polyline points="764.1,496.4 776.6,511.0"/><polyline points="714.0,410.8 737.0,406.6 755.8,404.5"/></g></g></g></g>
<g clip-path="url(#sem2)"><g filter="url(#blur15)"><rect x="864.9" y="391.9" width="181.2" height="115.8" fill="#48494b"/><ellipse cx="923.6" cy="417.7" rx="1.8" ry="4.0" fill="#555557" opacity="0.6"/><ellipse cx="882.0" cy="462.6" rx="2.2" ry="6.0" fill="#2a2a2c" opacity="0.6"/><ellipse cx="943.5" cy="409.3" rx="0.8" ry="8.9" fill="#5a5a5c" opacity="0.6"/><ellipse cx="967.3" cy="500.5" rx="1.7" ry="11.2" fill="#2a2a2c" opacity="0.6"/><ellipse cx="969.5" cy="443.3" rx="2.4" ry="3.7" fill="#5a5a5c" opacity="0.6"/><ellipse cx="889.1" cy="445.6" rx="1.6" ry="11.0" fill="#555557" opacity="0.6"/><ellipse cx="1012.7" cy="420.8" rx="1.6" ry="11.9" fill="#363638" opacity="0.6"/><ellipse cx="882.6" cy="476.1" rx="1.6" ry="11.7" fill="#3a3a3c" opacity="0.6"/><ellipse cx="988.2" cy="446.5" rx="1.2" ry="11.2" fill="#3a3a3c" opacity="0.6"/><ellipse cx="930.4" cy="427.8" rx="0.9" ry="13.9" fill="#2a2a2c" opacity="0.6"/><ellipse cx="969.0" cy="456.6" rx="2.2" ry="13.2" fill="#363638" opacity="0.6"/><ellipse cx="975.2" cy="409.6" rx="1.5" ry="5.3" fill="#363638" opacity="0.6"/><ellipse cx="892.5" cy="452.9" rx="0.7" ry="12.4" fill="#5a5a5c" opacity="0.6"/><ellipse cx="966.0" cy="484.1" rx="2.1" ry="7.8" fill="#363638" opacity="0.6"/><ellipse cx="972.6" cy="462.3" rx="1.4" ry="14.8" fill="#363638" opacity="0.6"/><ellipse cx="950.8" cy="471.1" rx="0.7" ry="12.8" fill="#58585a" opacity="0.6"/><ellipse cx="969.6" cy="472.8" rx="1.4" ry="13.0" fill="#58585a" opacity="0.6"/><ellipse cx="927.8" cy="499.8" rx="1.2" ry="11.6" fill="#3a3a3c" opacity="0.6"/><ellipse cx="875.7" cy="481.9" rx="0.8" ry="6.5" fill="#3a3a3c" opacity="0.6"/><ellipse cx="1030.9" cy="453.6" rx="0.9" ry="8.6" fill="#363638" opacity="0.6"/><ellipse cx="1024.9" cy="487.2" rx="2.2" ry="6.9" fill="#3a3a3c" opacity="0.6"/><ellipse cx="1043.6" cy="473.0" rx="1.3" ry="6.2" fill="#2a2a2c" opacity="0.6"/><ellipse cx="896.9" cy="426.1" rx="1.0" ry="9.8" fill="#555557" opacity="0.6"/><ellipse cx="898.0" cy="431.3" rx="0.9" ry="10.5" fill="#555557" opacity="0.6"/><ellipse cx="967.5" cy="501.1" rx="1.8" ry="10.2" fill="#555557" opacity="0.6"/><ellipse cx="983.5" cy="478.9" rx="1.4" ry="15.2" fill="#5a5a5c" opacity="0.6"/><ellipse cx="988.2" cy="460.2" rx="1.3" ry="8.5" fill="#3a3a3c" opacity="0.6"/><ellipse cx="979.8" cy="408.5" rx="0.7" ry="5.9" fill="#303032" opacity="0.6"/><ellipse cx="884.9" cy="464.5" rx="0.8" ry="10.9" fill="#555557" opacity="0.6"/><ellipse cx="883.4" cy="439.8" rx="0.6" ry="15.2" fill="#555557" opacity="0.6"/><ellipse cx="933.1" cy="468.0" rx="2.3" ry="11.4" fill="#3a3a3c" opacity="0.6"/><ellipse cx="887.2" cy="490.3" rx="2.4" ry="9.5" fill="#3a3a3c" opacity="0.6"/><ellipse cx="921.4" cy="417.0" rx="1.9" ry="13.4" fill="#3a3a3c" opacity="0.6"/><ellipse cx="1015.0" cy="418.8" rx="0.6" ry="16.3" fill="#555557" opacity="0.6"/><ellipse cx="930.5" cy="473.8" rx="2.2" ry="13.6" fill="#363638" opacity="0.6"/><ellipse cx="1042.1" cy="491.8" rx="1.9" ry="6.7" fill="#363638" opacity="0.6"/><ellipse cx="1029.4" cy="439.0" rx="1.0" ry="10.6" fill="#555557" opacity="0.6"/><ellipse cx="924.7" cy="425.2" rx="2.1" ry="16.8" fill="#5a5a5c" opacity="0.6"/><ellipse cx="900.3" cy="426.9" rx="1.3" ry="14.2" fill="#303032" opacity="0.6"/><ellipse cx="958.7" cy="439.0" rx="0.7" ry="3.4" fill="#363638" opacity="0.6"/><ellipse cx="950.5" cy="422.1" rx="1.7" ry="7.8" fill="#5a5a5c" opacity="0.6"/><ellipse cx="1034.6" cy="504.8" rx="2.3" ry="8.1" fill="#303032" opacity="0.6"/><ellipse cx="883.5" cy="450.9" rx="1.2" ry="9.8" fill="#555557" opacity="0.6"/><ellipse cx="1017.1" cy="451.9" rx="1.8" ry="14.2" fill="#2a2a2c" opacity="0.6"/><ellipse cx="1016.1" cy="414.5" rx="1.3" ry="13.0" fill="#303032" opacity="0.6"/><ellipse cx="951.5" cy="420.6" rx="2.0" ry="7.7" fill="#5a5a5c" opacity="0.6"/><ellipse cx="1036.3" cy="477.1" rx="1.4" ry="13.4" fill="#2a2a2c" opacity="0.6"/><ellipse cx="996.2" cy="419.7" rx="0.8" ry="5.1" fill="#3a3a3c" opacity="0.6"/><ellipse cx="1011.0" cy="417.2" rx="2.1" ry="16.7" fill="#58585a" opacity="0.6"/><ellipse cx="1034.7" cy="418.2" rx="1.6" ry="3.3" fill="#5a5a5c" opacity="0.6"/><ellipse cx="1040.7" cy="469.6" rx="1.5" ry="16.1" fill="#3a3a3c" opacity="0.6"/><ellipse cx="1043.6" cy="422.3" rx="2.2" ry="3.4" fill="#303032" opacity="0.6"/><ellipse cx="918.0" cy="427.0" rx="1.7" ry="6.6" fill="#3a3a3c" opacity="0.6"/><ellipse cx="1016.0" cy="408.3" rx="1.9" ry="15.6" fill="#58585a" opacity="0.6"/><ellipse cx="970.6" cy="496.0" rx="1.4" ry="15.8" fill="#555557" opacity="0.6"/><ellipse cx="888.7" cy="417.8" rx="1.5" ry="15.2" fill="#5a5a5c" opacity="0.6"/><ellipse cx="898.1" cy="402.4" rx="2.0" ry="5.4" fill="#3a3a3c" opacity="0.6"/><ellipse cx="977.1" cy="414.5" rx="0.7" ry="12.6" fill="#555557" opacity="0.6"/><ellipse cx="965.5" cy="483.6" rx="0.8" ry="10.8" fill="#303032" opacity="0.6"/><ellipse cx="899.6" cy="406.4" rx="0.8" ry="9.3" fill="#2a2a2c" opacity="0.6"/><ellipse cx="1002.6" cy="496.9" rx="1.4" ry="11.6" fill="#555557" opacity="0.6"/><ellipse cx="974.7" cy="422.7" rx="1.1" ry="10.1" fill="#5a5a5c" opacity="0.6"/><ellipse cx="951.5" cy="499.9" rx="1.9" ry="15.3" fill="#363638" opacity="0.6"/><ellipse cx="1032.0" cy="494.8" rx="1.0" ry="9.3" fill="#3a3a3c" opacity="0.6"/><ellipse cx="887.0" cy="448.0" rx="0.7" ry="6.4" fill="#2a2a2c" opacity="0.6"/><ellipse cx="903.5" cy="433.5" rx="0.8" ry="13.9" fill="#58585a" opacity="0.6"/><ellipse cx="981.5" cy="440.1" rx="1.1" ry="4.9" fill="#3a3a3c" opacity="0.6"/><ellipse cx="904.7" cy="501.1" rx="1.3" ry="9.8" fill="#58585a" opacity="0.6"/><ellipse cx="1015.7" cy="418.8" rx="1.4" ry="10.2" fill="#363638" opacity="0.6"/><ellipse cx="941.3" cy="439.1" rx="0.8" ry="8.1" fill="#363638" opacity="0.6"/><ellipse cx="965.3" cy="447.8" rx="0.6" ry="7.6" fill="#555557" opacity="0.6"/><ellipse cx="918.5" cy="501.9" rx="0.8" ry="15.9" fill="#303032" opacity="0.6"/><ellipse cx="1040.9" cy="412.9" rx="1.1" ry="3.6" fill="#5a5a5c" opacity="0.6"/><ellipse cx="897.9" cy="480.6" rx="2.1" ry="14.9" fill="#58585a" opacity="0.6"/><ellipse cx="1013.2" cy="428.9" rx="0.9" ry="15.9" fill="#555557" opacity="0.6"/><ellipse cx="954.5" cy="436.0" rx="1.1" ry="14.2" fill="#303032" opacity="0.6"/><ellipse cx="942.0" cy="409.5" rx="2.3" ry="11.9" fill="#5a5a5c" opacity="0.6"/><ellipse cx="912.2" cy="465.3" rx="1.0" ry="6.7" fill="#2a2a2c" opacity="0.6"/><ellipse cx="947.1" cy="437.3" rx="1.6" ry="16.0" fill="#363638" opacity="0.6"/><ellipse cx="977.5" cy="406.5" rx="1.9" ry="16.1" fill="#303032" opacity="0.6"/><ellipse cx="912.4" cy="420.8" rx="2.3" ry="11.8" fill="#555557" opacity="0.6"/><ellipse cx="1002.5" cy="432.2" rx="1.5" ry="5.5" fill="#363638" opacity="0.6"/><ellipse cx="1010.5" cy="505.4" rx="0.7" ry="3.3" fill="#555557" opacity="0.6"/><ellipse cx="964.7" cy="421.7" rx="1.5" ry="16.1" fill="#2a2a2c" opacity="0.6"/><ellipse cx="984.2" cy="469.6" rx="1.8" ry="10.6" fill="#3a3a3c" opacity="0.6"/><ellipse cx="1040.6" cy="434.0" rx="1.0" ry="6.2" fill="#303032" opacity="0.6"/><ellipse cx="1015.6" cy="475.5" rx="1.7" ry="8.7" fill="#363638" opacity="0.6"/><ellipse cx="1042.7" cy="489.0" rx="0.6" ry="11.8" fill="#363638" opacity="0.6"/><ellipse cx="943.0" cy="407.8" rx="1.8" ry="8.3" fill="#555557" opacity="0.6"/><ellipse cx="986.4" cy="431.3" rx="1.0" ry="7.1" fill="#3a3a3c" opacity="0.6"/><ellipse cx="898.5" cy="430.0" rx="0.6" ry="8.1" fill="#363638" opacity="0.6"/><ellipse cx="1041.0" cy="458.9" rx="1.0" ry="16.5" fill="#363638" opacity="0.6"/><ellipse cx="904.4" cy="421.0" rx="1.2" ry="4.2" fill="#363638" opacity="0.6"/><ellipse cx="956.0" cy="422.9" rx="1.5" ry="3.1" fill="#363638" opacity="0.6"/><ellipse cx="1012.9" cy="417.0" rx="1.7" ry="8.5" fill="#363638" opacity="0.6"/><ellipse cx="920.1" cy="426.2" rx="1.7" ry="10.4" fill="#5a5a5c" opacity="0.6"/><ellipse cx="893.1" cy="494.9" rx="2.0" ry="11.4" fill="#5a5a5c" opacity="0.6"/><ellipse cx="924.0" cy="504.4" rx="0.9" ry="13.1" fill="#58585a" opacity="0.6"/><ellipse cx="891.2" cy="487.8" rx="1.9" ry="10.2" fill="#3a3a3c" opacity="0.6"/><ellipse cx="997.8" cy="486.5" rx="0.9" ry="10.3" fill="#555557" opacity="0.6"/><ellipse cx="967.9" cy="486.5" rx="0.6" ry="12.6" fill="#5a5a5c" opacity="0.6"/><ellipse cx="1026.6" cy="473.0" rx="1.8" ry="6.2" fill="#2a2a2c" opacity="0.6"/><ellipse cx="872.6" cy="468.3" rx="2.3" ry="8.3" fill="#3a3a3c" opacity="0.6"/><ellipse cx="966.1" cy="467.3" rx="1.7" ry="12.5" fill="#3a3a3c" opacity="0.6"/><ellipse cx="912.7" cy="449.5" rx="0.7" ry="16.1" fill="#555557" opacity="0.6"/><ellipse cx="881.6" cy="456.7" rx="1.9" ry="9.6" fill="#5a5a5c" opacity="0.6"/><ellipse cx="878.5" cy="429.6" rx="1.9" ry="5.9" fill="#58585a" opacity="0.6"/><ellipse cx="982.6" cy="449.9" rx="2.1" ry="4.1" fill="#58585a" opacity="0.6"/><ellipse cx="917.0" cy="406.9" rx="1.7" ry="5.8" fill="#555557" opacity="0.6"/><ellipse cx="891.7" cy="428.4" rx="1.9" ry="7.3" fill="#555557" opacity="0.6"/><ellipse cx="889.2" cy="452.2" rx="1.5" ry="16.6" fill="#2a2a2c" opacity="0.6"/><ellipse cx="990.3" cy="472.3" rx="1.1" ry="10.2" fill="#3a3a3c" opacity="0.6"/><ellipse cx="949.3" cy="481.8" rx="2.4" ry="10.7" fill="#363638" opacity="0.6"/><ellipse cx="1042.0" cy="499.4" rx="0.6" ry="9.4" fill="#5a5a5c" opacity="0.6"/><ellipse cx="956.7" cy="505.4" rx="2.4" ry="8.4" fill="#303032" opacity="0.6"/><ellipse cx="878.5" cy="411.4" rx="1.9" ry="6.7" fill="#363638" opacity="0.6"/><ellipse cx="889.0" cy="487.3" rx="1.5" ry="15.4" fill="#58585a" opacity="0.6"/><ellipse cx="931.1" cy="453.8" rx="2.2" ry="8.5" fill="#303032" opacity="0.6"/><ellipse cx="865.6" cy="453.1" rx="1.4" ry="7.2" fill="#303032" opacity="0.6"/><ellipse cx="940.3" cy="441.1" rx="0.8" ry="7.6" fill="#363638" opacity="0.6"/><ellipse cx="1000.9" cy="489.3" rx="0.8" ry="16.0" fill="#58585a" opacity="0.6"/><ellipse cx="867.1" cy="479.0" rx="1.1" ry="3.9" fill="#3a3a3c" opacity="0.6"/><ellipse cx="1045.8" cy="463.3" rx="1.2" ry="9.0" fill="#363638" opacity="0.6"/><ellipse cx="1019.6" cy="431.2" rx="0.7" ry="12.3" fill="#58585a" opacity="0.6"/><ellipse cx="1034.3" cy="427.9" rx="1.1" ry="10.2" fill="#303032" opacity="0.6"/><ellipse cx="1004.9" cy="483.7" rx="1.4" ry="3.4" fill="#5a5a5c" opacity="0.6"/><ellipse cx="979.2" cy="497.0" rx="2.3" ry="10.7" fill="#58585a" opacity="0.6"/><ellipse cx="879.6" cy="499.1" rx="1.3" ry="11.6" fill="#303032" opacity="0.6"/><ellipse cx="981.7" cy="431.8" rx="0.7" ry="16.0" fill="#303032" opacity="0.6"/><ellipse cx="895.9" cy="445.1" rx="1.1" ry="6.6" fill="#58585a" opacity="0.6"/><ellipse cx="1041.7" cy="429.1" rx="1.8" ry="7.2" fill="#555557" opacity="0.6"/><ellipse cx="986.1" cy="414.5" rx="1.8" ry="4.1" fill="#555557" opacity="0.6"/><ellipse cx="1029.0" cy="453.7" rx="1.0" ry="15.7" fill="#5a5a5c" opacity="0.6"/><ellipse cx="946.4" cy="416.5" rx="0.9" ry="4.3" fill="#363638" opacity="0.6"/><ellipse cx="965.6" cy="435.2" rx="1.3" ry="14.3" fill="#303032" opacity="0.6"/><ellipse cx="1025.6" cy="480.0" rx="1.3" ry="8.8" fill="#555557" opacity="0.6"/><ellipse cx="903.0" cy="430.1" rx="2.0" ry="10.0" fill="#555557" opacity="0.6"/><ellipse cx="1040.2" cy="415.1" rx="1.5" ry="11.8" fill="#5a5a5c" opacity="0.6"/><ellipse cx="1018.6" cy="411.6" rx="2.2" ry="8.4" fill="#58585a" opacity="0.6"/><ellipse cx="945.7" cy="501.2" rx="2.1" ry="15.2" fill="#2a2a2c" opacity="0.6"/><ellipse cx="888.0" cy="446.2" rx="2.0" ry="14.3" fill="#555557" opacity="0.6"/><ellipse cx="953.7" cy="409.6" rx="2.3" ry="16.0" fill="#555557" opacity="0.6"/><ellipse cx="1019.8" cy="503.1" rx="1.0" ry="4.5" fill="#303032" opacity="0.6"/><ellipse cx="892.5" cy="503.1" rx="0.8" ry="14.6" fill="#58585a" opacity="0.6"/><ellipse cx="982.2" cy="481.5" rx="1.4" ry="10.7" fill="#2a2a2c" opacity="0.6"/><ellipse cx="865.2" cy="415.1" rx="1.6" ry="3.5" fill="#58585a" opacity="0.6"/><ellipse cx="920.0" cy="415.3" rx="1.1" ry="11.9" fill="#58585a" opacity="0.6"/><ellipse cx="1003.3" cy="412.3" rx="1.1" ry="16.2" fill="#303032" opacity="0.6"/><ellipse cx="935.2" cy="425.3" rx="1.7" ry="3.1" fill="#363638" opacity="0.6"/><ellipse cx="1045.3" cy="431.0" rx="1.2" ry="14.8" fill="#303032" opacity="0.6"/><ellipse cx="951.0" cy="426.4" rx="1.0" ry="16.4" fill="#58585a" opacity="0.6"/><ellipse cx="982.6" cy="407.8" rx="0.9" ry="15.4" fill="#58585a" opacity="0.6"/><ellipse cx="941.0" cy="428.8" rx="1.8" ry="16.0" fill="#303032" opacity="0.6"/><ellipse cx="954.2" cy="474.4" rx="1.9" ry="8.1" fill="#3a3a3c" opacity="0.6"/><ellipse cx="900.9" cy="484.9" rx="1.9" ry="10.1" fill="#303032" opacity="0.6"/><ellipse cx="954.7" cy="422.8" rx="2.0" ry="5.7" fill="#3a3a3c" opacity="0.6"/><ellipse cx="905.1" cy="481.1" rx="1.1" ry="16.3" fill="#3a3a3c" opacity="0.6"/><ellipse cx="975.4" cy="495.2" rx="1.5" ry="15.7" fill="#2a2a2c" opacity="0.6"/><ellipse cx="1036.7" cy="417.2" rx="1.3" ry="6.0" fill="#555557" opacity="0.6"/><ellipse cx="890.7" cy="407.4" rx="0.7" ry="8.5" fill="#58585a" opacity="0.6"/><ellipse cx="1024.9" cy="478.2" rx="2.4" ry="16.0" fill="#363638" opacity="0.6"/><ellipse cx="899.5" cy="469.9" rx="1.5" ry="9.5" fill="#363638" opacity="0.6"/><ellipse cx="985.3" cy="441.4" rx="1.3" ry="7.6" fill="#303032" opacity="0.6"/><ellipse cx="884.7" cy="410.1" rx="0.7" ry="8.9" fill="#2a2a2c" opacity="0.6"/><ellipse cx="966.6" cy="480.9" rx="1.3" ry="13.8" fill="#363638" opacity="0.6"/><ellipse cx="1013.8" cy="447.0" rx="0.7" ry="9.6" fill="#363638" opacity="0.6"/><ellipse cx="963.0" cy="448.4" rx="1.2" ry="13.3" fill="#3a3a3c" opacity="0.6"/><ellipse cx="870.5" cy="444.7" rx="2.1" ry="13.7" fill="#2a2a2c" opacity="0.6"/><ellipse cx="933.0" cy="450.3" rx="2.0" ry="3.9" fill="#303032" opacity="0.6"/><ellipse cx="1000.3" cy="495.4" rx="1.2" ry="6.8" fill="#555557" opacity="0.6"/><ellipse cx="872.9" cy="479.6" rx="1.8" ry="15.9" fill="#363638" opacity="0.6"/><ellipse cx="865.7" cy="480.6" rx="2.2" ry="11.9" fill="#2a2a2c" opacity="0.6"/><ellipse cx="869.4" cy="426.3" rx="1.5" ry="16.4" fill="#5a5a5c" opacity="0.6"/><ellipse cx="935.0" cy="428.1" rx="1.4" ry="9.9" fill="#3a3a3c" opacity="0.6"/><ellipse cx="898.1" cy="485.5" rx="1.9" ry="14.5" fill="#5a5a5c" opacity="0.6"/><ellipse cx="892.4" cy="426.6" rx="2.2" ry="9.5" fill="#5a5a5c" opacity="0.6"/><ellipse cx="1006.6" cy="410.2" rx="1.0" ry="13.5" fill="#303032" opacity="0.6"/><ellipse cx="938.8" cy="469.6" rx="1.5" ry="10.6" fill="#303032" opacity="0.6"/><ellipse cx="1042.4" cy="493.9" rx="2.4" ry="6.7" fill="#2a2a2c" opacity="0.6"/><ellipse cx="902.7" cy="445.8" rx="2.4" ry="16.6" fill="#303032" opacity="0.6"/><ellipse cx="907.4" cy="445.4" rx="1.7" ry="12.4" fill="#58585a" opacity="0.6"/><ellipse cx="962.5" cy="482.5" rx="2.0" ry="13.9" fill="#363638" opacity="0.6"/><ellipse cx="918.2" cy="461.0" rx="1.3" ry="13.3" fill="#303032" opacity="0.6"/><ellipse cx="944.5" cy="421.3" rx="1.0" ry="6.9" fill="#555557" opacity="0.6"/><ellipse cx="899.1" cy="408.7" rx="1.1" ry="6.4" fill="#555557" opacity="0.6"/><ellipse cx="906.9" cy="486.1" rx="1.8" ry="16.9" fill="#2a2a2c" opacity="0.6"/><ellipse cx="865.8" cy="493.8" rx="1.0" ry="9.3" fill="#363638" opacity="0.6"/><ellipse cx="872.3" cy="432.5" rx="0.8" ry="5.7" fill="#5a5a5c" opacity="0.6"/><ellipse cx="970.6" cy="498.7" rx="1.3" ry="15.1" fill="#3a3a3c" opacity="0.6"/><ellipse cx="974.2" cy="482.6" rx="1.8" ry="3.1" fill="#58585a" opacity="0.6"/><ellipse cx="972.9" cy="466.5" rx="1.0" ry="8.2" fill="#303032" opacity="0.6"/><ellipse cx="873.0" cy="506.0" rx="0.7" ry="13.3" fill="#303032" opacity="0.6"/><ellipse cx="1012.5" cy="487.2" rx="1.3" ry="8.2" fill="#555557" opacity="0.6"/><ellipse cx="921.5" cy="423.2" rx="2.0" ry="10.7" fill="#2a2a2c" opacity="0.6"/><ellipse cx="938.9" cy="484.8" rx="1.8" ry="5.2" fill="#555557" opacity="0.6"/><ellipse cx="881.5" cy="419.0" rx="1.9" ry="8.7" fill="#363638" opacity="0.6"/><ellipse cx="985.9" cy="445.5" rx="0.7" ry="13.4" fill="#363638" opacity="0.6"/><ellipse cx="939.9" cy="403.9" rx="2.0" ry="14.2" fill="#58585a" opacity="0.6"/><ellipse cx="900.7" cy="477.7" rx="1.0" ry="3.1" fill="#303032" opacity="0.6"/><ellipse cx="941.7" cy="487.3" rx="1.3" ry="15.4" fill="#3a3a3c" opacity="0.6"/><ellipse cx="1004.9" cy="415.5" rx="0.7" ry="5.0" fill="#5a5a5c" opacity="0.6"/><ellipse cx="1029.7" cy="411.3" rx="1.7" ry="8.2" fill="#555557" opacity="0.6"/><ellipse cx="896.1" cy="438.2" rx="0.9" ry="5.4" fill="#2a2a2c" opacity="0.6"/><ellipse cx="884.7" cy="453.0" rx="2.0" ry="16.5" fill="#303032" opacity="0.6"/><ellipse cx="919.6" cy="489.1" rx="0.7" ry="15.8" fill="#363638" opacity="0.6"/><ellipse cx="874.7" cy="498.3" rx="1.3" ry="15.7" fill="#555557" opacity="0.6"/><ellipse cx="989.6" cy="494.7" rx="1.8" ry="15.0" fill="#555557" opacity="0.6"/><ellipse cx="938.2" cy="490.0" rx="2.1" ry="5.6" fill="#303032" opacity="0.6"/><ellipse cx="872.5" cy="499.6" rx="0.9" ry="8.0" fill="#303032" opacity="0.6"/><ellipse cx="909.7" cy="477.4" rx="2.2" ry="3.6" fill="#555557" opacity="0.6"/><ellipse cx="1017.5" cy="471.9" rx="1.8" ry="7.5" fill="#3a3a3c" opacity="0.6"/><ellipse cx="973.5" cy="459.2" rx="1.7" ry="7.3" fill="#3a3a3c" opacity="0.6"/><ellipse cx="920.8" cy="427.9" rx="1.3" ry="8.1" fill="#555557" opacity="0.6"/><ellipse cx="944.3" cy="404.4" rx="1.7" ry="9.9" fill="#303032" opacity="0.6"/><ellipse cx="945.9" cy="466.3" rx="2.1" ry="14.7" fill="#5a5a5c" opacity="0.6"/><ellipse cx="950.7" cy="413.1" rx="0.8" ry="9.0" fill="#2a2a2c" opacity="0.6"/><ellipse cx="1010.2" cy="454.5" rx="1.8" ry="3.6" fill="#303032" opacity="0.6"/><ellipse cx="879.9" cy="478.3" rx="2.0" ry="10.2" fill="#2a2a2c" opacity="0.6"/><ellipse cx="1001.1" cy="495.1" rx="1.8" ry="14.0" fill="#2a2a2c" opacity="0.6"/><ellipse cx="1020.1" cy="505.6" rx="1.9" ry="14.4" fill="#303032" opacity="0.6"/><ellipse cx="888.8" cy="494.1" rx="1.1" ry="14.4" fill="#5a5a5c" opacity="0.6"/><ellipse cx="894.9" cy="484.0" rx="2.3" ry="3.9" fill="#363638" opacity="0.6"/><ellipse cx="975.5" cy="428.2" rx="1.2" ry="11.6" fill="#5a5a5c" opacity="0.6"/><ellipse cx="947.6" cy="428.4" rx="2.3" ry="9.7" fill="#555557" opacity="0.6"/><ellipse cx="912.6" cy="454.6" rx="1.2" ry="3.5" fill="#303032" opacity="0.6"/><ellipse cx="938.0" cy="468.2" rx="1.1" ry="7.6" fill="#3a3a3c" opacity="0.6"/><ellipse cx="895.5" cy="483.6" rx="0.8" ry="10.4" fill="#58585a" opacity="0.6"/><ellipse cx="1020.4" cy="502.5" rx="1.4" ry="10.3" fill="#58585a" opacity="0.6"/><ellipse cx="1024.7" cy="412.9" rx="2.4" ry="11.8" fill="#3a3a3c" opacity="0.6"/><ellipse cx="998.6" cy="440.6" rx="1.3" ry="8.2" fill="#303032" opacity="0.6"/><ellipse cx="930.2" cy="481.5" rx="1.4" ry="5.5" fill="#58585a" opacity="0.6"/><ellipse cx="1038.4" cy="432.8" rx="1.5" ry="7.3" fill="#5a5a5c" opacity="0.6"/><ellipse cx="971.0" cy="471.0" rx="1.2" ry="3.0" fill="#2a2a2c" opacity="0.6"/><ellipse cx="905.1" cy="432.3" rx="1.7" ry="8.8" fill="#363638" opacity="0.6"/><ellipse cx="1027.1" cy="415.7" rx="1.0" ry="12.1" fill="#2a2a2c" opacity="0.6"/><ellipse cx="874.8" cy="461.0" rx="1.1" ry="10.3" fill="#555557" opacity="0.6"/><ellipse cx="905.6" cy="462.7" rx="1.7" ry="5.9" fill="#555557" opacity="0.6"/><ellipse cx="1015.0" cy="418.5" rx="0.6" ry="14.2" fill="#58585a" opacity="0.6"/><ellipse cx="892.0" cy="412.0" rx="1.7" ry="15.2" fill="#5a5a5c" opacity="0.6"/><ellipse cx="913.8" cy="486.4" rx="2.3" ry="3.8" fill="#5a5a5c" opacity="0.6"/><ellipse cx="966.8" cy="438.4" rx="1.8" ry="9.2" fill="#555557" opacity="0.6"/><ellipse cx="997.8" cy="427.8" rx="2.2" ry="3.6" fill="#555557" opacity="0.6"/><ellipse cx="869.6" cy="421.3" rx="0.9" ry="15.8" fill="#2a2a2c" opacity="0.6"/><ellipse cx="867.2" cy="459.3" rx="2.3" ry="5.0" fill="#303032" opacity="0.6"/><ellipse cx="958.8" cy="468.8" rx="1.8" ry="8.8" fill="#555557" opacity="0.6"/><ellipse cx="896.6" cy="434.2" rx="1.1" ry="3.7" fill="#58585a" opacity="0.6"/><ellipse cx="1006.7" cy="476.4" rx="0.6" ry="14.8" fill="#58585a" opacity="0.6"/><ellipse cx="1030.1" cy="410.4" rx="1.8" ry="5.5" fill="#2a2a2c" opacity="0.6"/><ellipse cx="912.3" cy="469.0" rx="0.8" ry="15.5" fill="#58585a" opacity="0.6"/><ellipse cx="1035.7" cy="429.4" rx="0.7" ry="11.9" fill="#58585a" opacity="0.6"/><ellipse cx="943.9" cy="484.0" rx="1.5" ry="6.7" fill="#58585a" opacity="0.6"/><ellipse cx="1033.1" cy="495.0" rx="0.8" ry="10.1" fill="#303032" opacity="0.6"/><ellipse cx="912.1" cy="426.6" rx="1.9" ry="16.2" fill="#58585a" opacity="0.6"/><ellipse cx="1030.6" cy="422.0" rx="1.3" ry="11.4" fill="#3a3a3c" opacity="0.6"/><ellipse cx="1029.3" cy="467.6" rx="1.8" ry="12.3" fill="#555557" opacity="0.6"/><ellipse cx="950.0" cy="489.3" rx="1.9" ry="15.0" fill="#3a3a3c" opacity="0.6"/><ellipse cx="1038.0" cy="426.3" rx="2.2" ry="14.0" fill="#3a3a3c" opacity="0.6"/><ellipse cx="977.7" cy="410.1" rx="2.2" ry="5.0" fill="#2a2a2c" opacity="0.6"/><ellipse cx="885.3" cy="466.7" rx="0.9" ry="16.7" fill="#58585a" opacity="0.6"/><ellipse cx="870.2" cy="406.3" rx="1.8" ry="11.9" fill="#58585a" opacity="0.6"/></g><rect x="864.9" y="402" width="181.2" height="40" fill="url(#sem2top)"/><rect x="864.9" y="391.9" width="181.2" height="7.2" fill="#1c1d20"/><polyline points="864.9,401.0 871.7,401.4 878.0,401.0 885.0,400.7 891.5,401.1 899.5,400.6 905.0,400.6 913.1,401.2 917.3,401.5 926.1,401.2 933.2,400.7 937.2,401.0 941.5,400.7 946.7,400.5 953.1,400.9 961.3,401.0 968.5,401.0 975.8,401.0 981.2,401.5 990.2,401.3 997.7,400.8 1002.8,400.8 1007.2,401.3 1013.2,401.3 1019.1,401.5 1027.4,400.5 1032.4,401.4 1038.8,401.5 1044.8,400.6 1047,401.0" fill="none" stroke="#eeeeee" stroke-width="2.8" stroke-linejoin="round"/><rect x="864.9" y="504.8" width="181.2" height="2.9" fill="#151515"/></g>
</svg></body></html>
